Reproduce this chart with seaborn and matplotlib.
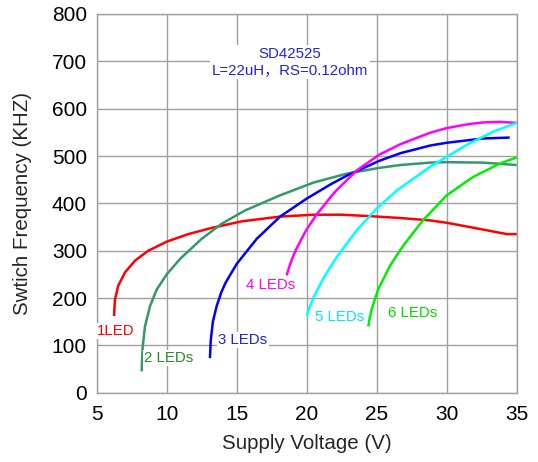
import numpy as np
import pandas as pd
import matplotlib
matplotlib.use("Agg")
import matplotlib.pyplot as plt
import seaborn as sns

# Switching frequency (kHz) vs. supply voltage (V) for 1..6 series LEDs
v_1led = [6.24, 6.28, 6.31, 6.54, 7.02, 7.74, 8.69, 10.0, 11.54, 13.2, 15.36, 18.1, 20.5,
          22.5, 24.5, 26.7, 28.8, 30.0, 32.0, 34.3, 35.0]
f_1led = [162, 185, 197, 226, 254, 279, 300, 319, 335, 348, 362, 372, 376,
          376, 373, 369, 364, 359, 348, 335, 335]

v_2led = [8.21, 8.25, 8.29, 8.45, 8.81, 9.29, 10.0, 11.0, 12.5, 13.93, 15.6, 18.1, 20.5,
          22.9, 25.2, 26.7, 28.8, 30.0, 32.6, 35.0]
f_2led = [45, 75, 98, 140, 183, 218, 250, 284, 325, 357, 385, 417, 444,
          463, 475, 481, 486, 487, 486, 481]

v_3led = [13.09, 13.15, 13.3, 13.57, 13.9, 14.2, 15.0, 16.43, 18.1, 20.0, 21.7, 22.9,
          25.2, 26.7, 28.8, 30.0, 32.6, 34.5]
f_3led = [73, 111, 150, 183, 212, 232, 272, 325, 372, 410, 440, 459,
          490, 506, 522, 528, 537, 539]

v_4led = [18.57, 18.8, 19.04, 19.3, 19.76, 20.0, 20.7, 21.7, 22.14, 23.6, 25.2, 26.7,
          28.8, 30.0, 31.5, 32.6, 33.8, 35.0]
f_4led = [248, 270, 289, 306, 332, 345, 376, 413, 428, 470, 503, 525,
          549, 559, 567, 571, 572, 570]

v_5led = [20.0, 20.2, 20.5, 21.2, 21.7, 22.14, 23.57, 25.0, 26.43, 28.8, 31.4, 33.3, 35.0]
f_5led = [162, 180, 202, 242, 266, 286, 343, 389, 427, 477, 523, 551, 570]

v_6led = [24.4, 24.5, 24.64, 25.1, 25.95, 26.7, 27.14, 28.3, 30.0, 31.9, 33.8, 35.0]
f_6led = [140, 157, 176, 218, 268, 302, 320, 364, 417, 456, 484, 497]

series_names = ["1LED", "2 LEDs", "3 LEDs", "4 LEDs", "5 LEDs", "6 LEDs"]
line_colors = ["#ff0000", "#339966", "#0000ff", "#ff00ff", "#00ffff", "#00ee00"]
text_colors = ["#ff0000", "#228b22", "#2222dd", "#ff00ff", "#00e5ff", "#00dd00"]
label_pos = [(5.0, 131), (8.4, 74), (13.7, 112), (15.7, 228), (20.6, 159), (25.8, 169)]

x_ticks = [5, 10, 15, 20, 25, 30, 35]
y_ticks = [0, 100, 200, 300, 400, 500, 600, 700, 800]

volts = [v_1led, v_2led, v_3led, v_4led, v_5led, v_6led]
freqs = [f_1led, f_2led, f_3led, f_4led, f_5led, f_6led]
df = pd.concat(
    [pd.DataFrame({"V": v, "F": f, "series": n}) for v, f, n in zip(volts, freqs, series_names)],
    ignore_index=True,
)

sns.set_theme(style="white")
plt.rcParams["font.family"] = ["Liberation Sans", "Noto Sans CJK SC", "DejaVu Sans"]

fig = plt.figure(figsize=(5.38, 4.62), dpi=100)
ax = fig.add_axes([0.1797, 0.150, 0.7807, 0.8197])

sns.lineplot(
    data=df, x="V", y="F", hue="series", hue_order=series_names,
    palette=dict(zip(series_names, line_colors)),
    estimator=None, sort=False, linewidth=1.8, legend=False, ax=ax, zorder=3,
)
for line in ax.get_lines():
    line.set_solid_joinstyle("round")
    line.set_solid_capstyle("butt")

ax.set_xlim(5, 35)
ax.set_ylim(0, 800)
ax.set_xticks(x_ticks)
ax.set_yticks(y_ticks)
ax.grid(True, color="#a0a0a0", linewidth=1.0)
ax.set_axisbelow(True)
for s in ax.spines.values():
    s.set_color("#a0a0a0")
    s.set_linewidth(1.0)
ax.tick_params(axis="both", length=0, labelsize=15, colors="black")
ax.tick_params(axis="x", pad=9)
ax.tick_params(axis="y", pad=7)
ax.set_xlabel("Supply Voltage (V)", fontsize=14.8, labelpad=7)
ax.set_ylabel("Swtich Frequency (KHZ)", fontsize=14.8, labelpad=14)

for name, col, (lx, ly) in zip(series_names, text_colors, label_pos):
    ax.text(lx, ly, name, color=col, fontsize=10.8, ha="left", va="center", zorder=4,
            bbox=dict(facecolor="white", edgecolor="none", pad=0.8))

ax.text(18.8, 698, "SD42525\nL=22uH，RS=0.12ohm", color="#2020ee", fontsize=10.8,
        ha="center", va="center", linespacing=1.2, zorder=4,
        bbox=dict(facecolor="white", edgecolor="none", pad=1.5))

fig.savefig("out.png", dpi=100)
